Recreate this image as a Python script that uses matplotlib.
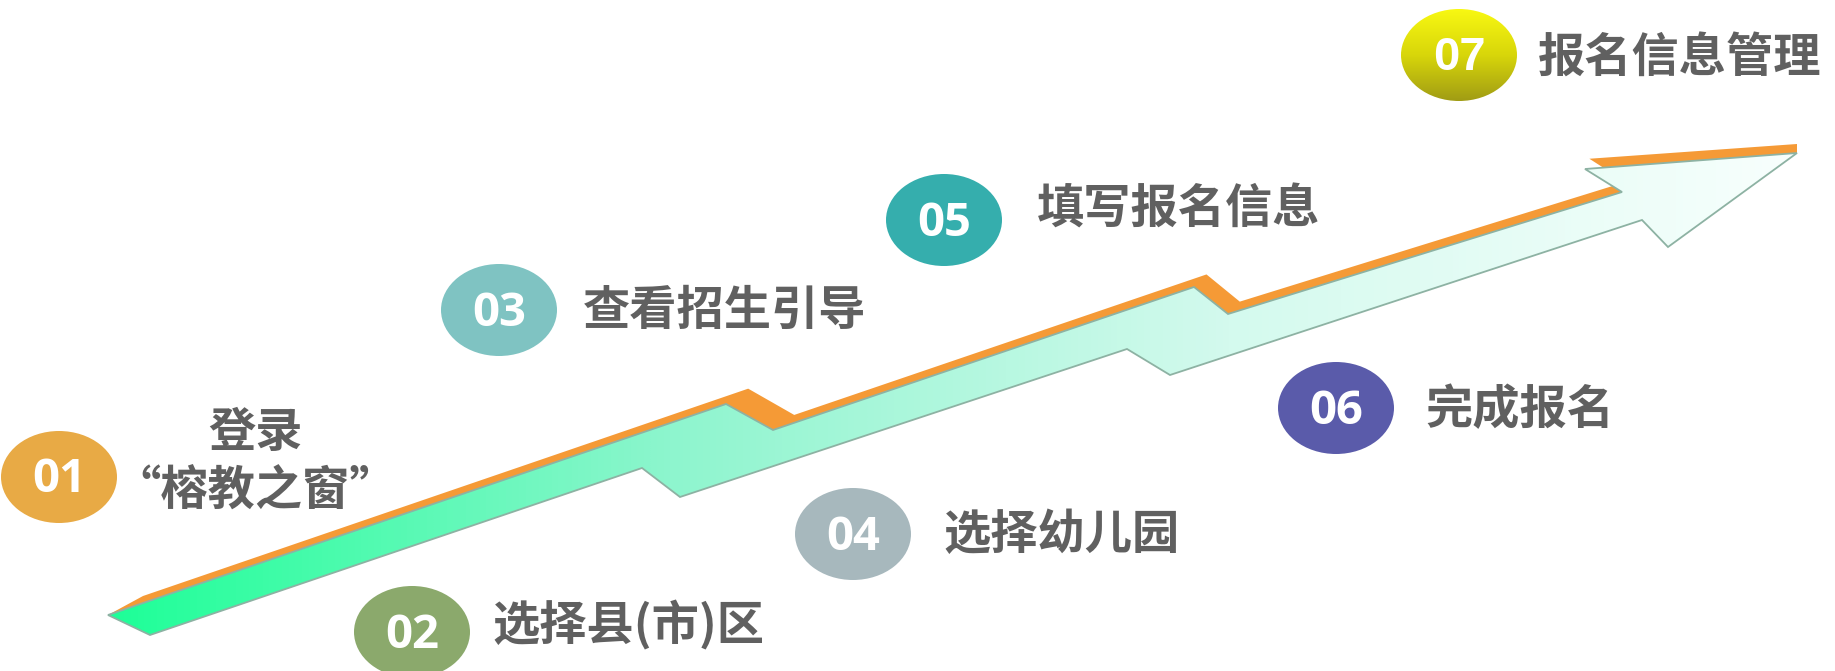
import numpy as np
import matplotlib
matplotlib.use("Agg")
import matplotlib.pyplot as plt
from matplotlib.patches import Ellipse, Polygon

# step badges and labels
step_nums = ["01", "02", "03", "04", "05", "06", "07"]
step_labels = ["登录\n“榕教之窗”", "选择县(市)区", "查看招生引导", "选择幼儿园",
               "填写报名信息", "完成报名", "报名信息管理"]
badge_x = [59, 412, 499, 853, 944, 1336, 1459]
badge_y = [477, 632, 310, 534, 220, 408, 55]
badge_colors = ["#E8AA45", "#8BA96C", "#7FC3C2", "#A7B8BD", "#35AEAD", "#5A5BAA", None]
label_x = [255, 492, 583, 943, 1037, 1425, 1538]
label_y = [462, 625, 311, 535, 210, 410, 59]

# arrow outline (face), clockwise from the left tip
arrow_x = [108, 726, 773, 1194, 1228, 1622, 1585, 1797, 1668, 1642, 1170, 1127, 680, 642, 150]
arrow_y = [615, 404, 430, 287, 314, 192, 169, 153, 247, 220, 375, 349, 497, 468, 635]
n_top = 8  # first 8 vertices form the upper (orange) edge

W, H = 1835, 671
GRAY = "#606060"
ORANGE = "#F59A36"
CJK = ["Noto Sans CJK SC", "DejaVu Sans"]
BW, BH = 116, 92


def extrude(x, y):
    # top side of the arrow seen in perspective: offset shrinks to the right
    t = (x - arrow_x[0]) / (arrow_x[7] - arrow_x[0])
    return x + 35 * (1 - t), y - 19 + 10 * t


fig = plt.figure(figsize=(W / 100, H / 100), dpi=100)
ax = fig.add_axes([0, 0, 1, 1])
ax.set_xlim(0, W)
ax.set_ylim(H, 0)
ax.axis("off")

# orange top side
top = list(zip(arrow_x[:n_top], arrow_y[:n_top]))
shifted = [extrude(x, y) for x, y in top]
ax.add_patch(Polygon(top + shifted[::-1], closed=True, facecolor=ORANGE,
                     edgecolor="none", zorder=1))

# gradient face
face = Polygon(list(zip(arrow_x, arrow_y)), closed=True, facecolor="none",
               edgecolor="#8DB2A3", linewidth=1.3, zorder=3)
ax.add_patch(face)
cmap = matplotlib.colors.LinearSegmentedColormap.from_list(
    "arrow", ["#1EFF98", "#8EF5CE", "#D4FAEE", "#F8FFFD"])
grad = np.tile(np.linspace(0, 1, 256), (2, 1))
im = ax.imshow(grad, cmap=cmap, extent=[min(arrow_x), max(arrow_x), max(arrow_y), min(arrow_y)],
               aspect="auto", zorder=2, interpolation="bilinear")
im.set_clip_path(face)

# badges
for i, num in enumerate(step_nums):
    if badge_colors[i] is None:
        ell = Ellipse((badge_x[i], badge_y[i]), BW, BH, facecolor="none", edgecolor="none", zorder=4)
        ax.add_patch(ell)
        ycmap = matplotlib.colors.LinearSegmentedColormap.from_list(
            "yel", ["#F8F812", "#D8D60A", "#A09C14"])
        g = np.linspace(0, 1, 256).reshape(-1, 1)
        gi = ax.imshow(g, cmap=ycmap, extent=[badge_x[i] - BW / 2, badge_x[i] + BW / 2,
                                               badge_y[i] + BH / 2, badge_y[i] - BH / 2],
                       aspect="auto", zorder=4)
        gi.set_clip_path(ell)
        nfam = ["Liberation Sans", "DejaVu Sans"]
    else:
        ax.add_patch(Ellipse((badge_x[i], badge_y[i]), BW, BH,
                             facecolor=badge_colors[i], edgecolor="none", zorder=4))
        nfam = ["Open Sans", "DejaVu Sans"]
    ax.text(badge_x[i], badge_y[i] + 3, num, color="white", fontsize=34,
            fontweight="bold", family=nfam, ha="center", va="center", zorder=5)

# labels
for i, lab in enumerate(step_labels):
    ha = "center" if "\n" in lab else "left"
    ax.text(label_x[i], label_y[i], lab, color=GRAY, fontsize=34, fontweight="bold",
            family=CJK, ha=ha, va="center", linespacing=1.25, zorder=5)

fig.savefig("out.png", dpi=100, facecolor="white")
